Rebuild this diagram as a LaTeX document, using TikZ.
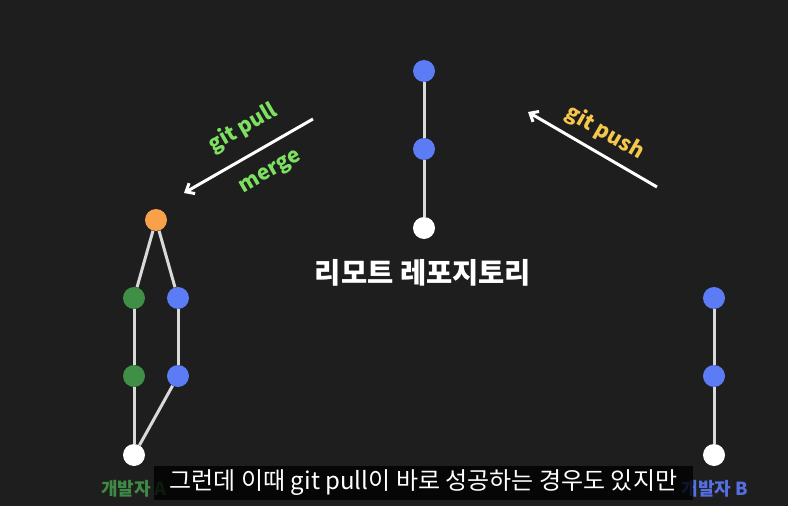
\documentclass[tikz,border=0pt]{standalone}
\usepackage{fontspec}
\setmainfont{Noto Sans CJK KR}
\newfontfamily\kbold{Noto Sans CJK KR Black}
\usetikzlibrary{arrows.meta}
\definecolor{bg}{HTML}{1E1E1E}
\definecolor{cblue}{HTML}{5B7CF5}
\definecolor{cgreen}{HTML}{3F8F47}
\definecolor{corange}{HTML}{F9A04A}
\definecolor{lgreen}{HTML}{7EE060}
\definecolor{cyellow}{HTML}{F5C84C}
\definecolor{lblgreen}{HTML}{3E8A45}
\definecolor{lblblue}{HTML}{5470E0}
\tikzset{
  commit/.style={circle,minimum size=22pt,inner sep=0pt,fill=#1},
  edge/.style={draw=white!85!black,line width=3pt},
  bigarrow/.style={draw=white,line width=3pt,-{Straight Barb[length=7pt,width=12pt,line width=3pt]}},
  lbl/.style={font=\kbold\fontsize{21}{23}\selectfont},
  devlbl/.style={font=\kbold\fontsize{18}{20}\selectfont},
}
\begin{document}
\begin{tikzpicture}[x=1pt,y=-1pt]
\useasboundingbox (0,0) rectangle (788,506);
\fill[bg] (0,0) rectangle (788,506);
% remote
\node[commit=cblue] (r1) at (424,71) {};
\node[commit=cblue] (r2) at (424,149) {};
\node[commit=white] (r3) at (424,228) {};
\draw[edge] (r1) -- (r2);
\draw[edge] (r2) -- (r3);
\node[font=\kbold\fontsize{28.5}{30}\selectfont,text=white] (rl) at (423,273) {리모트 레포지토리};
% dev A
\node[commit=corange] (ao) at (156,220) {};
\node[commit=cgreen] (ag1) at (134,298) {};
\node[commit=cblue] (ab1) at (178,298) {};
\node[commit=cgreen] (ag2) at (134,376) {};
\node[commit=cblue] (ab2) at (178,376) {};
\node[commit=white] (aw) at (134,455) {};
\draw[edge] (ao) -- (ag1);
\draw[edge] (ao) -- (ab1);
\draw[edge] (ag1) -- (ag2);
\draw[edge] (ab1) -- (ab2);
\draw[edge] (ag2) -- (aw);
\draw[edge] (ab2) -- (aw);
% dev B
\node[commit=cblue] (b1) at (714,298) {};
\node[commit=cblue] (b2) at (714,376) {};
\node[commit=white] (bw) at (714,455) {};
\draw[edge] (b1) -- (b2);
\draw[edge] (b2) -- (bw);
% labels
\node[devlbl,text=lblgreen] (la) at (134,489) {개발자 A};
\node[devlbl,text=lblblue] (lb) at (715,489) {개발자 B};
% arrows
\coordinate (p1) at (313,119);
\coordinate (p2) at (184,193);
\draw[bigarrow] (p1) -- (p2);
\node[lbl,text=lgreen,rotate=30] (gp) at (243,128) {git pull};
\node[lbl,text=lgreen,rotate=30] (mg) at (271,173) {merge};
\coordinate (q1) at (657,187);
\coordinate (q2) at (528,112);
\draw[bigarrow] (q1) -- (q2);
\node[lbl,text=cyellow,rotate=-30] (gh) at (605,133) {git push};
% subtitle
\node[fill=black,fill opacity=0.8,text opacity=1,text=white,font=\fontsize{24}{26}\selectfont,minimum width=539pt,minimum height=34pt,inner sep=0pt] (sub) at (423.5,483) {그런데 이때 git pull이 바로 성공하는 경우도 있지만};
\end{tikzpicture}
\end{document}
